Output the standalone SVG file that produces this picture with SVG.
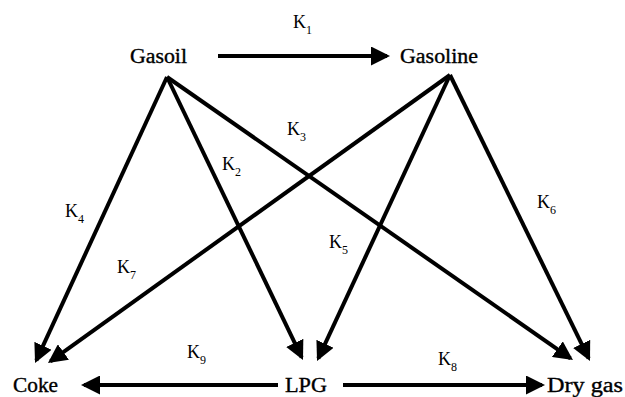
<svg xmlns="http://www.w3.org/2000/svg" width="625" height="397" viewBox="0 0 625 397">
  <defs>
    <marker id="ah" markerUnits="userSpaceOnUse" markerWidth="19" markerHeight="19" refX="16" refY="9.5" orient="auto">
      <path d="M0,0 L19,9.5 L0,19 z" fill="#000"/>
    </marker>
    <style>
      text { font-family: 'Liberation Serif', 'Times New Roman', serif; fill: #000; }
      .node { font-size: 20px; stroke: #000; stroke-width: 0.35px; }
      .lbl { font-size: 18px; }
      .sub { font-size: 12px; }
      .edge { stroke: #000; stroke-width: 4; fill: none; marker-end: url(#ah); }
    </style>
  </defs>
  <rect width="625" height="397" fill="#fff"/>

  <g id="connectors">
    <line class="edge" x1="218" y1="56" x2="387" y2="56"/>
    <line class="edge" x1="167" y1="77" x2="36.3" y2="360.3"/>
    <line class="edge" x1="167" y1="77" x2="301.7" y2="357.3"/>
    <line class="edge" x1="167" y1="77" x2="570.5" y2="358.3"/>
    <line class="edge" x1="450" y1="75" x2="50.4" y2="361.3"/>
    <line class="edge" x1="450" y1="75" x2="318.3" y2="358.3"/>
    <line class="edge" x1="450" y1="75" x2="588.7" y2="358.3"/>
    <line class="edge" x1="278" y1="385" x2="84" y2="385"/>
    <line class="edge" x1="343" y1="385" x2="542" y2="385"/>
  </g>

  <g id="labels">
    <text class="lbl" x="293" y="28">K<tspan class="sub" dy="6">1</tspan></text>
    <text class="lbl" x="222" y="170">K<tspan class="sub" dy="6">2</tspan></text>
    <text class="lbl" x="287" y="135">K<tspan class="sub" dy="6">3</tspan></text>
    <text class="lbl" x="65" y="217">K<tspan class="sub" dy="6">4</tspan></text>
    <text class="lbl" x="329" y="248">K<tspan class="sub" dy="6">5</tspan></text>
    <text class="lbl" x="537" y="208">K<tspan class="sub" dy="6">6</tspan></text>
    <text class="lbl" x="117" y="273">K<tspan class="sub" dy="6">7</tspan></text>
    <text class="lbl" x="438" y="365">K<tspan class="sub" dy="6">8</tspan></text>
    <text class="lbl" x="187" y="358">K<tspan class="sub" dy="6">9</tspan></text>
  </g>

  <g id="gasoil"><text class="node" x="130" y="63" textLength="57" lengthAdjust="spacingAndGlyphs">Gasoil</text></g>
  <g id="gasoline"><text class="node" x="400" y="63" textLength="78" lengthAdjust="spacingAndGlyphs">Gasoline</text></g>
  <g id="coke"><text class="node" x="13" y="392" textLength="45" lengthAdjust="spacingAndGlyphs">Coke</text></g>
  <g id="lpg"><text class="node" x="285" y="392" textLength="42" lengthAdjust="spacingAndGlyphs">LPG</text></g>
  <g id="drygas"><text class="node" x="547" y="392" textLength="76" lengthAdjust="spacingAndGlyphs">Dry gas</text></g>
</svg>
